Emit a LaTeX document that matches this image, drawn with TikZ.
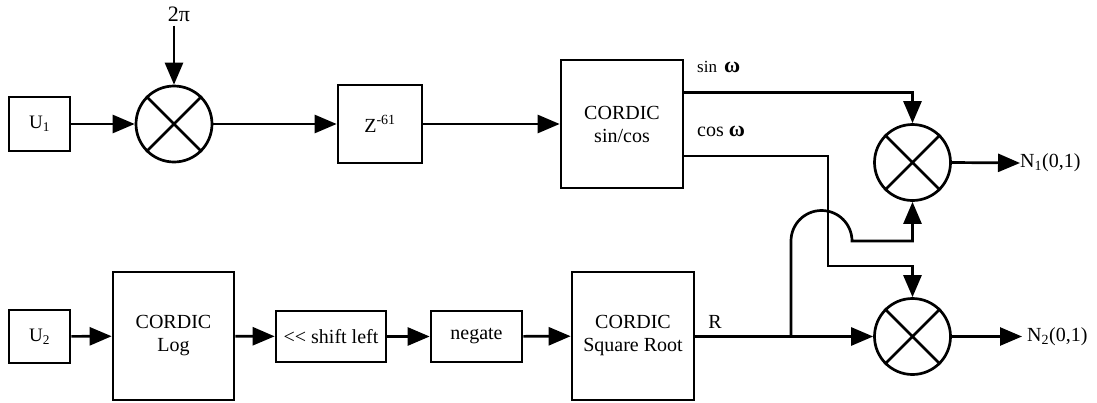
\documentclass[tikz,border=0pt]{standalone}
\usepackage{fontspec}
\setmainfont{Liberation Serif}
\usetikzlibrary{arrows.meta,calc}
\tikzset{
  box/.style={draw,line width=2.7pt,inner sep=0pt,align=center,font=\fontsize{20}{23}\selectfont},
  mult/.style={draw,circle,line width=2.7pt,minimum size=76pt,inner sep=0pt},
  wire/.style={line width=2.7pt},
  arr/.style={line width=2.7pt,-{Triangle[length=22pt,width=18pt]}},
  lbl/.style={inner sep=0pt,font=\fontsize{20}{23}\selectfont},
  slbl/.style={inner sep=0pt,font=\fontsize{17}{20}\selectfont}
}
\newcommand{\crossmult}[1]{\draw[wire] (#1.north east) -- (#1.south west) (#1.north west) -- (#1.south east);}
\newcommand{\omg}{{\fontsize{22}{24}\selectfont\textbf{ω}}}
\begin{document}
\begin{tikzpicture}[x=1pt,y=-1pt]
\useasboundingbox (0,0) rectangle (1097,402);
% top row
\node[box,minimum width=61pt,minimum height=54pt,font=\fontsize{19}{21}\selectfont] (u1) at (39.5,124) {U\textsubscript{1}};
\node[mult] (m1) at (174,124) {};
\crossmult{m1}
\node[lbl,font=\fontsize{22}{24}\selectfont] (twopi) at (179,14) {2π};
\node[box,minimum width=84pt,minimum height=78pt] (z) at (380,124) {Z\textsuperscript{-61}};
\node[box,minimum width=122pt,minimum height=128pt] (cs) at (622,124) {CORDIC\\sin/cos};
\node[mult] (m2) at (912.5,162.5) {};
\crossmult{m2}
\node[mult] (m3) at (912.5,336.5) {};
\crossmult{m3}
% bottom row
\node[box,minimum width=61pt,minimum height=53pt,font=\fontsize{19}{21}\selectfont] (u2) at (39.5,336.5) {U\textsubscript{2}};
\node[box,minimum width=121pt,minimum height=128pt] (log) at (173.5,336) {CORDIC\\Log};
\node[box,minimum width=110pt,minimum height=51pt] (shl) at (331,336.5) {{<}{<} shift left};
\node[box,minimum width=91pt,minimum height=51pt] (neg) at (476.5,336.5) {negate};
\node[box,minimum width=122pt,minimum height=128pt] (sq) at (633,336) {CORDIC\\Square Root};
% labels
\node[slbl,anchor=west] (sinl) at (697,67) {sin\, \omg};
\node[lbl,anchor=west] (cosl) at (697,131) {cos \omg};
\node[lbl] (rl) at (715,322) {R};
\node[lbl,anchor=west] (n1) at (1020,163) {N\textsubscript{1}(0,1)};
\node[lbl,anchor=west] (n2) at (1027,337) {N\textsubscript{2}(0,1)};
% coordinates
\coordinate (sinout) at ($(cs.east)+(0,-31.5)$);
\coordinate (cosout) at ($(cs.east)+(0,32)$);
\coordinate (br) at (791,336.5);
\coordinate (cv) at (828,156);
% connectors
\draw[arr] (u1) -- (m1);
\draw[arr] (twopi.south -| m1.north) ++(0,4) -- (m1.north);
\draw[arr] (m1) -- (z);
\draw[arr] (z) -- (cs);
\draw[arr] (sinout) -| (m2.north);
\draw[arr] (cosout) -- (cosout -| cv) -- (828,266) -| (m3.north);
\draw[arr] (m2.east) -- (n1.west);
\draw[arr] (m3.east) -- (1022,336.5);
\draw[arr] (u2) -- (log);
\draw[arr] (log) -- (shl);
\draw[arr] (shl) -- (neg);
\draw[arr] (neg) -- (sq);
\draw[arr] (sq.east |- br) -- (m3.west);
\draw[arr] (br) -- (791,241) arc[start angle=-180,end angle=0,radius=30.5] -- (912.5,241) -- (m2.south);
\end{tikzpicture}
\end{document}
